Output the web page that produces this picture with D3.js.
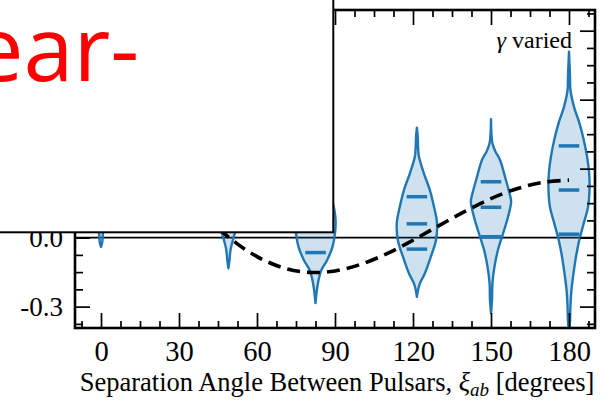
<!DOCTYPE html>
<html>
<head>
<meta charset="utf-8">
<script src="https://cdn.jsdelivr.net/npm/d3@7"></script>
<style>
	body { margin: 0; background: #fff; }
	svg { display: block; }
	.tick text { font-family: 'Liberation Serif', 'Times New Roman', serif; fill: #000; }
</style>
</head>
<body>
<svg id="chart" width="610" height="402"></svg>
<script>
// violin positions (degrees) and density profiles: [value, relative density]
const violinAngles = [0, 49, 82.5, 121.5, 150, 180]

const violin0 = [[-0.04, 0], [-0.02, 0.06], [0.05, 0.12], [0.15, 0.3], [0.3, 0.65], [0.45, 1], [0.6, 0.6], [0.75, 0.2], [0.85, 0]]
const violin49 = [[-0.133, 0], [-0.1, 0.05], [-0.05, 0.11], [0, 0.25], [0.05, 0.42], [0.12, 0.7], [0.2, 0.95], [0.3, 1], [0.4, 0.7], [0.5, 0.35], [0.6, 0.1], [0.7, 0]]
const violin82 = [[-0.285, 0], [-0.24, 0.05], [-0.184, 0.15], [-0.14, 0.29], [-0.097, 0.57], [-0.039, 0.83], [0.02, 0.95], [0.07, 0.98], [0.12, 0.92], [0.2, 0.7], [0.3, 0.4], [0.4, 0.15], [0.5, 0.04], [0.55, 0]]
const violin121 = [[-0.257, 0], [-0.23, 0.05], [-0.198, 0.15], [-0.155, 0.39], [-0.083, 0.68], [-0.01, 0.93], [0.063, 0.98], [0.135, 0.83], [0.207, 0.63], [0.28, 0.34], [0.352, 0.1], [0.39, 0.06], [0.44, 0.04], [0.478, 0]]
const violin150 = [[-0.329, 0], [-0.27, 0.05], [-0.198, 0.07], [-0.126, 0.17], [-0.053, 0.34], [0.019, 0.59], [0.091, 0.83], [0.157, 0.98], [0.193, 0.9], [0.265, 0.68], [0.338, 0.44], [0.374, 0.22], [0.41, 0.07], [0.515, 0]]
const violin180 = [[-0.42, 0], [-0.36, 0.05], [-0.3, 0.07], [-0.227, 0.12], [-0.155, 0.22], [-0.083, 0.34], [-0.01, 0.5], [0.063, 0.72], [0.135, 0.93], [0.215, 1], [0.28, 0.98], [0.352, 0.88], [0.425, 0.72], [0.497, 0.51], [0.57, 0.24], [0.642, 0.07], [0.7, 0.05], [0.809, 0]]
const violinProfiles = [violin0, violin49, violin82, violin121, violin150, violin180]

// quartile bars for each violin
const violinQuartiles = [[0.3, 0.45, 0.6], [0.14, 0.26, 0.38], [-0.065, 0.04, 0.15], [-0.05, 0.06, 0.178], [0.004, 0.132, 0.243], [0.015, 0.207, 0.399]]

// Hellings-Downs curve read at 10 degree steps
const hdAngles = [0, 10, 20, 30, 40, 50, 60, 70, 80, 90, 100, 110, 120, 130, 140, 150, 160, 170, 180]
const hdValues = [0.5, 0.4425, 0.3341, 0.2116, 0.0942, -0.0062, -0.0824, -0.1309, -0.1511, -0.1449, -0.1159, -0.0694, -0.0112, 0.0522, 0.1144, 0.1697, 0.2129, 0.2405, 0.25]

const xTickLabels = [0, 30, 60, 90, 120, 150, 180]
const yMajorTicks = [-0.3, 0, 0.3, 0.6, 0.9]
const yTickLabels = [-0.3, 0]   // the rest sit under the overlay box

const svg = d3.select('#chart')
const pLeft = 75, pRight = 595, pTop = 10, pBottom = 328

const x = d3.scaleLinear().domain([-10, 190]).range([pLeft, pRight])
const y = d3.scaleLinear().domain([-0.393, 0.99]).range([pBottom, pTop])
const halfWidth = 7.9 // degrees at density 1
const blue = '#1f77b4'

svg.append('clipPath').attr('id', 'plot')
	.append('rect')
	.attr('x', pLeft).attr('y', pTop)
	.attr('width', pRight - pLeft).attr('height', pBottom - pTop)

const plot = svg.append('g').attr('clip-path', 'url(#plot)')

// zero line
plot.append('line')
	.attr('x1', pLeft).attr('x2', pRight)
	.attr('y1', y(0)).attr('y2', y(0))
	.attr('stroke', '#000')
	.attr('stroke-width', 1.8)

// violins
violinAngles.forEach((pos, i) => {
	const area = d3.area()
		.y(d => y(d[0]))
		.x0(d => x(pos - d[1] * halfWidth))
		.x1(d => x(pos + d[1] * halfWidth))
		.curve(d3.curveCatmullRom)

	plot.append('path')
		.datum(violinProfiles[i])
		.attr('d', area)
		.attr('fill', blue)
		.attr('fill-opacity', 0.22)
		.attr('stroke', blue)
		.attr('stroke-width', 2.4)
		.attr('stroke-linejoin', 'round')

	plot.selectAll(null)
		.data(violinQuartiles[i])
		.enter()
		.append('line')
		.attr('x1', x(pos - halfWidth * 0.5))
		.attr('x2', x(pos + halfWidth * 0.5))
		.attr('y1', d => y(d))
		.attr('y2', d => y(d))
		.attr('stroke', blue)
		.attr('stroke-width', 3.5)
})

// dashed Hellings-Downs curve
const hdLine = d3.line()
	.x((d, i) => x(hdAngles[i]))
	.y(d => y(d))
	.curve(d3.curveCatmullRom)

plot.append('path')
	.datum(hdValues)
	.attr('d', hdLine)
	.attr('fill', 'none')
	.attr('stroke', '#000')
	.attr('stroke-width', 3.6)
	.attr('stroke-dasharray', '13,7')

// ticks (inward, all four sides)
const xMinor = d3.range(-7.5, 190, 7.5).filter(v => v % 30 !== 0)
const yMinor = d3.range(-5, 14).filter(i => i % 4 !== 0).map(i => i * 0.075)
const fmt = d => d.toFixed(1)

function addAxis (axisFn, transform, values, size, labels, pad, fs) {
	const a = axisFn.tickValues(values).tickSize(-size).tickPadding(pad)
	if (!labels) a.tickFormat('')
	else if (labels === 'y') a.tickFormat(fmt)
	const g = svg.append('g').attr('transform', transform).call(a)
	g.select('.domain').remove()
	g.selectAll('.tick line').attr('stroke', '#000').attr('stroke-width', 1.7)
	g.selectAll('.tick text').attr('font-size', fs)
	return g
}

addAxis(d3.axisBottom(x), `translate(0,${pBottom})`, xTickLabels, 15, 'x', 13, 28.5)
addAxis(d3.axisBottom(x), `translate(0,${pBottom})`, xMinor, 7, null, 0, 0)
addAxis(d3.axisTop(x), `translate(0,${pTop})`, xTickLabels, 15, null, 0, 0)
addAxis(d3.axisTop(x), `translate(0,${pTop})`, xMinor, 7, null, 0, 0)
addAxis(d3.axisLeft(y), `translate(${pLeft},0)`, yMajorTicks, 15, null, 0, 0)
addAxis(d3.axisLeft(y), `translate(${pLeft},0)`, yTickLabels, 0, 'y', 12, 27)
addAxis(d3.axisLeft(y), `translate(${pLeft},0)`, yMinor, 8, null, 0, 0)
addAxis(d3.axisRight(y), `translate(${pRight},0)`, yMajorTicks, 15, null, 0, 0)
addAxis(d3.axisRight(y), `translate(${pRight},0)`, yMinor, 8, null, 0, 0)

// frame
svg.append('rect')
	.attr('x', pLeft).attr('y', pTop)
	.attr('width', pRight - pLeft).attr('height', pBottom - pTop)
	.attr('fill', 'none')
	.attr('stroke', '#000')
	.attr('stroke-width', 2.6)

// annotation
svg.append('text')
	.attr('x', 572).attr('y', 48)
	.attr('text-anchor', 'end')
	.attr('font-family', "'Liberation Serif', serif")
	.attr('font-size', 24)
	.html('<tspan font-style="italic">γ</tspan> varied')

// x axis title
const title = svg.append('text')
	.attr('x', 337).attr('y', 391)
	.attr('text-anchor', 'middle')
	.attr('font-family', "'Liberation Serif', serif")
	.attr('font-size', 26.5)
title.append('tspan').text('Separation Angle Between Pulsars, ')
title.append('tspan').attr('font-style', 'italic').text('ξ')
title.append('tspan').attr('font-style', 'italic').attr('font-size', 19).attr('dy', 5).text('ab')
title.append('tspan').attr('dy', -5).text(' [degrees]')

// slide overlay box
svg.append('rect')
	.attr('x', -5).attr('y', -5)
	.attr('width', 338.3).attr('height', 237.3)
	.attr('fill', '#fff')
	.attr('stroke', '#000')
	.attr('stroke-width', 2)

svg.append('text')
	.attr('x', -27).attr('y', 81)
	.attr('font-family', "'Open Sans', sans-serif")
	.attr('font-size', 90)
	.attr('fill', '#ff0000')
	.text('ear-')
</script>
</body>
</html>
